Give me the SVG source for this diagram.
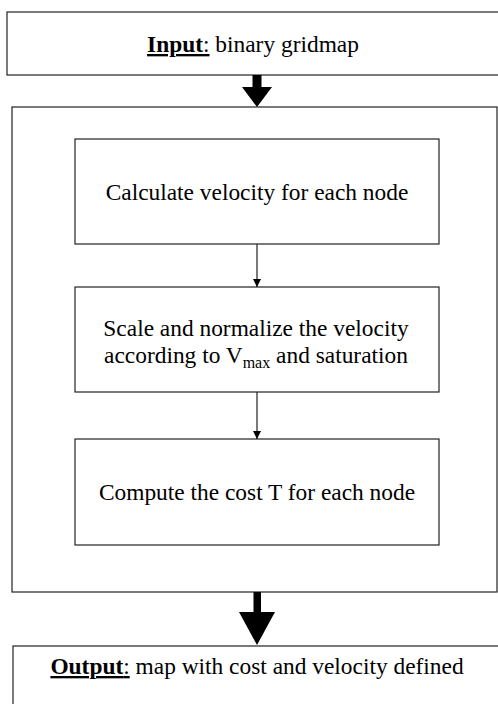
<svg xmlns="http://www.w3.org/2000/svg" width="498" height="704" viewBox="0 0 498 704">
<style>
.box{fill:#fff;stroke:#222;stroke-width:1.2}
.t{font-family:"Liberation Serif","Times New Roman",serif;font-size:23.4px;fill:#000;text-anchor:middle}
.thin{stroke:#222;stroke-width:1.2;fill:none}
</style>
<defs>
<marker id="ah" viewBox="0 0 10 10" refX="10" refY="5" markerWidth="8" markerHeight="8" markerUnits="userSpaceOnUse" orient="auto">
<path d="M0,0 L10,5 L0,10 z" fill="#000"/>
</marker>
</defs>
<rect width="498" height="704" fill="#fff"/>
<g id="outer"><rect class="box" x="12" y="107" width="485" height="485"/></g>
<g id="input">
<rect class="box" x="7" y="12" width="500" height="63"/>
<text class="t" x="253" y="52" font-size="25"><tspan font-weight="bold" text-decoration="underline">Input</tspan><tspan text-decoration="underline">:</tspan> binary gridmap</text>
</g>
<g id="calc">
<rect class="box" x="75" y="139" width="364" height="105"/>
<text class="t" x="257" y="200">Calculate velocity for each node</text>
</g>
<g id="scale">
<rect class="box" x="75" y="287" width="364" height="105"/>
<text class="t" x="256" y="336">Scale and normalize the velocity</text>
<text class="t" x="256" y="363">according to V<tspan font-size="16" dy="5">max</tspan><tspan dy="-5"> and saturation</tspan></text>
</g>
<g id="cost">
<rect class="box" x="75" y="439" width="364" height="106"/>
<text class="t" x="257" y="500">Compute the cost T for each node</text>
</g>
<g id="output">
<rect class="box" x="13" y="646" width="500" height="70"/>
<text class="t" x="257" y="674" font-size="24.2"><tspan font-weight="bold" text-decoration="underline">Output</tspan><tspan text-decoration="underline">:</tspan> map with cost and velocity defined</text>
</g>
<g id="connectors">
<line class="thin" x1="257" y1="244" x2="257" y2="287" marker-end="url(#ah)"/>
<line class="thin" x1="257" y1="392" x2="257" y2="439" marker-end="url(#ah)"/>
<path d="M252.5,75 H261.5 V87 H272 L257,107 L242,87 H252.5 Z" fill="#000"/>
<path d="M253.5,592 H261 V612 H275 L257,645 L239,612 H253.5 Z" fill="#000"/>
</g>
</svg>
